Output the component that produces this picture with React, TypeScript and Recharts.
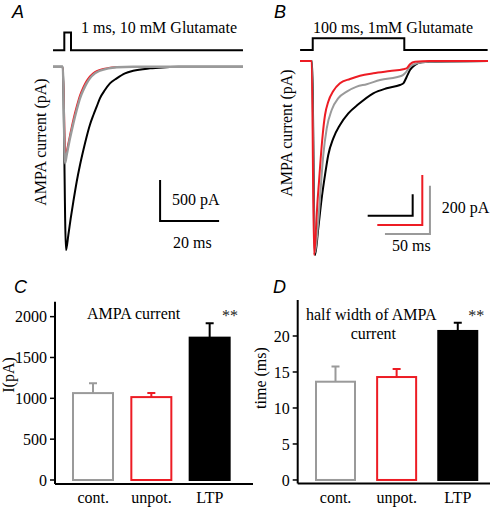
import React from 'react';
import { LineChart, Line, XAxis, YAxis, BarChart, Bar } from 'recharts';

const SERIF = "'Liberation Serif', 'Times New Roman', serif";
const SANS = "'Liberation Sans', Arial, sans-serif";
const RED = '#ED1C24';
const GRAY = '#9a9a9a';

// ---------- Panel A: 1 ms, 10 mM glutamate (t in ms, current in pA) ----------
const aStim: number[][] = [[0, 0], [3.83, 0], [3.83, 1], [6.1, 1], [6.1, 0], [64.4, 0]];
const aBlack: number[][] = [
  [0, 0], [3.3, 0], [4.41, -2237], [5.2, -2053], [6.0, -1850], [6.89, -1647], [8.03, -1403],
  [9.15, -1199], [10.3, -1016], [11.4, -854], [12.5, -711], [13.7, -589], [14.8, -488],
  [15.9, -386], [17.6, -284], [19.3, -203], [21.6, -142], [24.4, -81], [27.2, -49],
  [32.9, -20], [38.5, -7], [42.5, 0], [64.4, 0],
];
const aRed: number[][] = [
  [0, 0], [3.3, 0], [4.3, -1098], [4.8, -1000], [5.76, -830], [6.89, -640], [8.03, -480],
  [9.15, -345], [10.3, -245], [11.4, -170], [12.5, -115], [14.2, -62], [15.9, -36],
  [18.8, -14], [21.6, -5], [27.2, 0], [64.4, 0],
];
const aGray: number[][] = [
  [0, 0], [3.3, 0], [4.07, -1179], [4.64, -1077], [5.76, -874], [6.89, -691], [8.03, -528],
  [9.15, -386], [10.3, -284], [11.4, -203], [12.5, -142], [14.2, -81], [15.9, -49],
  [18.8, -20], [21.6, -7], [27.2, 0], [64.4, 0],
];
// scale bar: 20 ms x 500 pA
const aScale: number[][] = [[36.3, -1382], [36.3, -1882], [56.3, -1882]];

// ---------- Panel B: 100 ms, 1 mM glutamate ----------
const bStim: number[][] = [[0, 0], [14.1, 0], [14.1, 1], [115.9, 1], [115.9, 0], [208.6, 0]];
const bBlack: number[][] = [
  [0, 0], [13.3, 0], [16.7, -1814], [20.3, -1564], [24.1, -1284], [27.8, -1066], [31.4, -879],
  [37, -723], [44.4, -598], [53.7, -489], [64.8, -405], [81.4, -302], [96.3, -255],
  [111.1, -224], [114.8, -209], [118.6, -147], [122.2, -84], [127.8, -37], [135.2, -12],
  [144.4, -7], [208.9, 0],
];
const bGray: number[][] = [
  [0, 0], [13.3, 0], [16.1, -795], [20.3, -665], [23, -527], [25.9, -389], [29.7, -279],
  [35.2, -203], [42.6, -154], [51.9, -127], [63, -106], [74.1, -96], [88.9, -79],
  [113, -61], [116.7, -51], [122.2, -24], [129.7, -10], [142.6, -3], [208.9, 0],
];
const bRed: number[][] = [
  [0, 0], [13, 0], [15.6, -776], [17.8, -669], [19.2, -576], [21.1, -483], [23, -389],
  [25.2, -296], [27.8, -216], [31.4, -163], [37, -120], [44.4, -89], [55.6, -72],
  [66.7, -59], [81.4, -49], [100, -40], [114.8, -33], [118.6, -29], [122.2, -13],
  [127.8, -3], [144.4, 0], [208.9, 0],
];
// scale bars: 50 ms x 200 pA, one per trace
const bScaleBlack: number[][] = [[75.2, -1446], [125.2, -1446], [125.2, -1246]];
const bScaleRed: number[][] = [[85.9, -656], [135.9, -656], [135.9, -456]];
const bScaleGray: number[][] = [[94.4, -716], [144.4, -716], [144.4, -516]];

// ---------- Panels C & D ----------
const categories = ['cont.', 'unpot.', 'LTP'];
const cMeans = [1064, 1015, 1743];
const cErrs = [122, 49, 176];
const cTicks = [0, 500, 1000, 1500, 2000];
const dMeans = [13.65, 14.3, 20.7];
const dErrs = [2.1, 1.1, 1.15];
const dTicks = [0, 5, 10, 15, 20];

const barStroke = ['#9a9a9a', RED, '#000'];
const barFill = ['#fff', '#fff', '#000'];

const toPts = (a: number[][]) => a.map(([t, v]) => ({ t, v }));
const cData = categories.map((name, i) => ({ name, mean: cMeans[i], err: cErrs[i] }));
const dData = categories.map((name, i) => ({ name, mean: dMeans[i], err: dErrs[i] }));

const BarWithErr = (props: any) => {
  const { x, y, width, height, payload } = props;
  const i = categories.indexOf(payload.name);
  const pxPerUnit = height / payload.mean;
  const top = y - payload.err * pxPerUnit;
  const cx = x + width / 2;
  const c = barStroke[i];
  return (
    <g>
      <line x1={cx} x2={cx} y1={y} y2={top} stroke={c} strokeWidth={2} />
      <line x1={cx - 4} x2={cx + 4} y1={top} y2={top} stroke={c} strokeWidth={2} />
      <rect x={x + 1} y={y} width={width - 2} height={height} fill={barFill[i]} stroke={c} strokeWidth={2} />
    </g>
  );
};

const tickStyle = { fill: '#000', fontSize: 16, fontFamily: SERIF };
const axisStyle = { stroke: '#000', strokeWidth: 2 };

const abs = (left: number, top: number): React.CSSProperties => ({ position: 'absolute', left, top });

export default function App() {
  return (
    <div style={{ position: 'absolute', left: 0, top: 0, width: 491, height: 507, background: '#fff', overflow: 'hidden' }}>
      {/* Panel A stimulus */}
      <div style={abs(53, 28.8)}>
        <LineChart width={190} height={24.8} margin={{ top: 0, right: 0, bottom: 0, left: 0 }}>
          <XAxis type="number" dataKey="t" domain={[0, 64.4]} hide allowDataOverflow />
          <YAxis type="number" domain={[-0.2, 1.2]} hide allowDataOverflow />
          <Line data={toPts(aStim)} dataKey="v" type="linear" stroke="#000" strokeWidth={2} dot={false} isAnimationActive={false} />
        </LineChart>
      </div>
      {/* Panel A traces */}
      <div style={abs(53, 20)}>
        <LineChart width={190} height={240} margin={{ top: 0, right: 0, bottom: 0, left: 0 }}>
          <XAxis type="number" dataKey="t" domain={[0, 64.4]} hide allowDataOverflow />
          <YAxis type="number" domain={[-2358, 570]} hide allowDataOverflow />
          <Line data={toPts(aBlack)} dataKey="v" type="monotone" stroke="#000" strokeWidth={2} dot={false} isAnimationActive={false} />
          <Line data={toPts(aRed)} dataKey="v" type="monotone" stroke={RED} strokeWidth={1.6} dot={false} isAnimationActive={false} />
          <Line data={toPts(aGray)} dataKey="v" type="monotone" stroke={GRAY} strokeWidth={2.4} dot={false} isAnimationActive={false} />
          <Line data={toPts(aScale)} dataKey="v" type="linear" stroke="#000" strokeWidth={2} dot={false} isAnimationActive={false} />
        </LineChart>
      </div>

      {/* Panel B stimulus */}
      <div style={abs(300, 35.96)}>
        <LineChart width={188} height={16.4} margin={{ top: 0, right: 0, bottom: 0, left: 0 }}>
          <XAxis type="number" dataKey="t" domain={[0, 208.9]} hide allowDataOverflow />
          <YAxis type="number" domain={[-0.2, 1.2]} hide allowDataOverflow />
          <Line data={toPts(bStim)} dataKey="v" type="linear" stroke="#000" strokeWidth={2} dot={false} isAnimationActive={false} />
        </LineChart>
      </div>
      {/* Panel B traces */}
      <div style={abs(300, 20)}>
        <LineChart width={188} height={240} margin={{ top: 0, right: 0, bottom: 0, left: 0 }}>
          <XAxis type="number" dataKey="t" domain={[0, 208.9]} hide allowDataOverflow />
          <YAxis yAxisId="k" type="number" domain={[-1860.6, 383.4]} hide allowDataOverflow />
          <YAxis yAxisId="r" type="number" domain={[-796, 164]} hide allowDataOverflow />
          <YAxis yAxisId="g" type="number" domain={[-823.9, 169.7]} hide allowDataOverflow />
          <Line yAxisId="k" data={toPts(bBlack)} dataKey="v" type="monotone" stroke="#000" strokeWidth={2} dot={false} isAnimationActive={false} />
          <Line yAxisId="g" data={toPts(bGray)} dataKey="v" type="monotone" stroke={GRAY} strokeWidth={2} dot={false} isAnimationActive={false} />
          <Line yAxisId="r" data={toPts(bRed)} dataKey="v" type="monotone" stroke={RED} strokeWidth={2} dot={false} isAnimationActive={false} />
          <Line yAxisId="k" data={toPts(bScaleBlack)} dataKey="v" type="linear" stroke="#000" strokeWidth={2} dot={false} isAnimationActive={false} />
          <Line yAxisId="r" data={toPts(bScaleRed)} dataKey="v" type="linear" stroke={RED} strokeWidth={2} dot={false} isAnimationActive={false} />
          <Line yAxisId="g" data={toPts(bScaleGray)} dataKey="v" type="linear" stroke={GRAY} strokeWidth={2} dot={false} isAnimationActive={false} />
        </LineChart>
      </div>

      {/* Panel C */}
      <div style={abs(0, 260)}>
        <BarChart width={260} height={247} data={cData} margin={{ top: 41.7, right: 7, bottom: 0, left: 0 }}>
          <XAxis dataKey="name" type="category" padding={{ left: 9, right: 14 }} axisLine={axisStyle} tickLine={false}
            tick={tickStyle} height={23} interval={0} />
          <YAxis type="number" domain={[-49, 2183]} ticks={cTicks} allowDataOverflow width={55} axisLine={axisStyle}
            tickLine={{ stroke: '#000', strokeWidth: 1.5 }} tickSize={5} tickMargin={3} tick={tickStyle} interval={0} />
          <Bar dataKey="mean" barSize={42} shape={BarWithErr} isAnimationActive={false} />
        </BarChart>
      </div>

      {/* Panel D */}
      <div style={abs(245, 260)}>
        <BarChart width={246} height={247} data={dData} margin={{ top: 40, right: 1, bottom: 0, left: 0 }}>
          <XAxis dataKey="name" type="category" padding={{ left: 7.3, right: 1.6 }} axisLine={axisStyle} tickLine={false}
            tick={tickStyle} height={23.5} interval={0} />
          <YAxis type="number" domain={[-0.49, 25]} ticks={dTicks} allowDataOverflow width={52.7} axisLine={axisStyle}
            tickLine={{ stroke: '#000', strokeWidth: 1.5 }} tickSize={5} tickMargin={3} tick={tickStyle} interval={0} />
          <Bar dataKey="mean" barSize={41} shape={BarWithErr} isAnimationActive={false} />
        </BarChart>
      </div>

      {/* Text annotations */}
      <svg width={491} height={507} style={{ position: 'absolute', left: 0, top: 0, pointerEvents: 'none' }}>
        <g fontFamily={SANS} fontStyle="italic" fontSize={18} fill="#000">
          <text x={12} y={17.5}>A</text>
          <text x={274} y={17.5}>B</text>
          <text x={14} y={292.5}>C</text>
          <text x={273} y={292.5}>D</text>
        </g>
        <g fontFamily={SERIF} fontSize={16} fill="#000">
          <text x={81} y={33} fill="#000">1 ms, 10 mM Glutamate</text>
          <text x={313} y={33} fill="#000">100 ms, 1mM Glutamate</text>
          <text x={172} y={205} fill="#000">500 pA</text>
          <text x={173} y={248} fill="#000">20 ms</text>
          <text x={441.7} y={213} fill="#000">200 pA</text>
          <text x={392} y={251} fill="#000">50 ms</text>
          <text x={87} y={319.3} fill="#000">AMPA current</text>
          <text x={222} y={321} fill="#222">**</text>
          <text x={306} y={319.5} fill="#000">half width of AMPA</text>
          <text x={373.3} y={338.5} textAnchor="middle" fill="#000">current</text>
          <text x={468.3} y={321} fill="#222">**</text>
          <text x={40} y={142} textAnchor="middle" dominantBaseline="central" transform="rotate(-90 40 142)" fill="#000">AMPA current (pA)</text>
          <text x={286} y={133} textAnchor="middle" dominantBaseline="central" transform="rotate(-90 286 133)" fill="#000">AMPA current (pA)</text>
          <text x={8} y={375} textAnchor="middle" dominantBaseline="central" transform="rotate(-90 8 375)" fill="#000">I(pA)</text>
          <text x={260} y={378} textAnchor="middle" dominantBaseline="central" transform="rotate(-90 260 378)" fill="#000">time (ms)</text>
        </g>
      </svg>
    </div>
  );
}
